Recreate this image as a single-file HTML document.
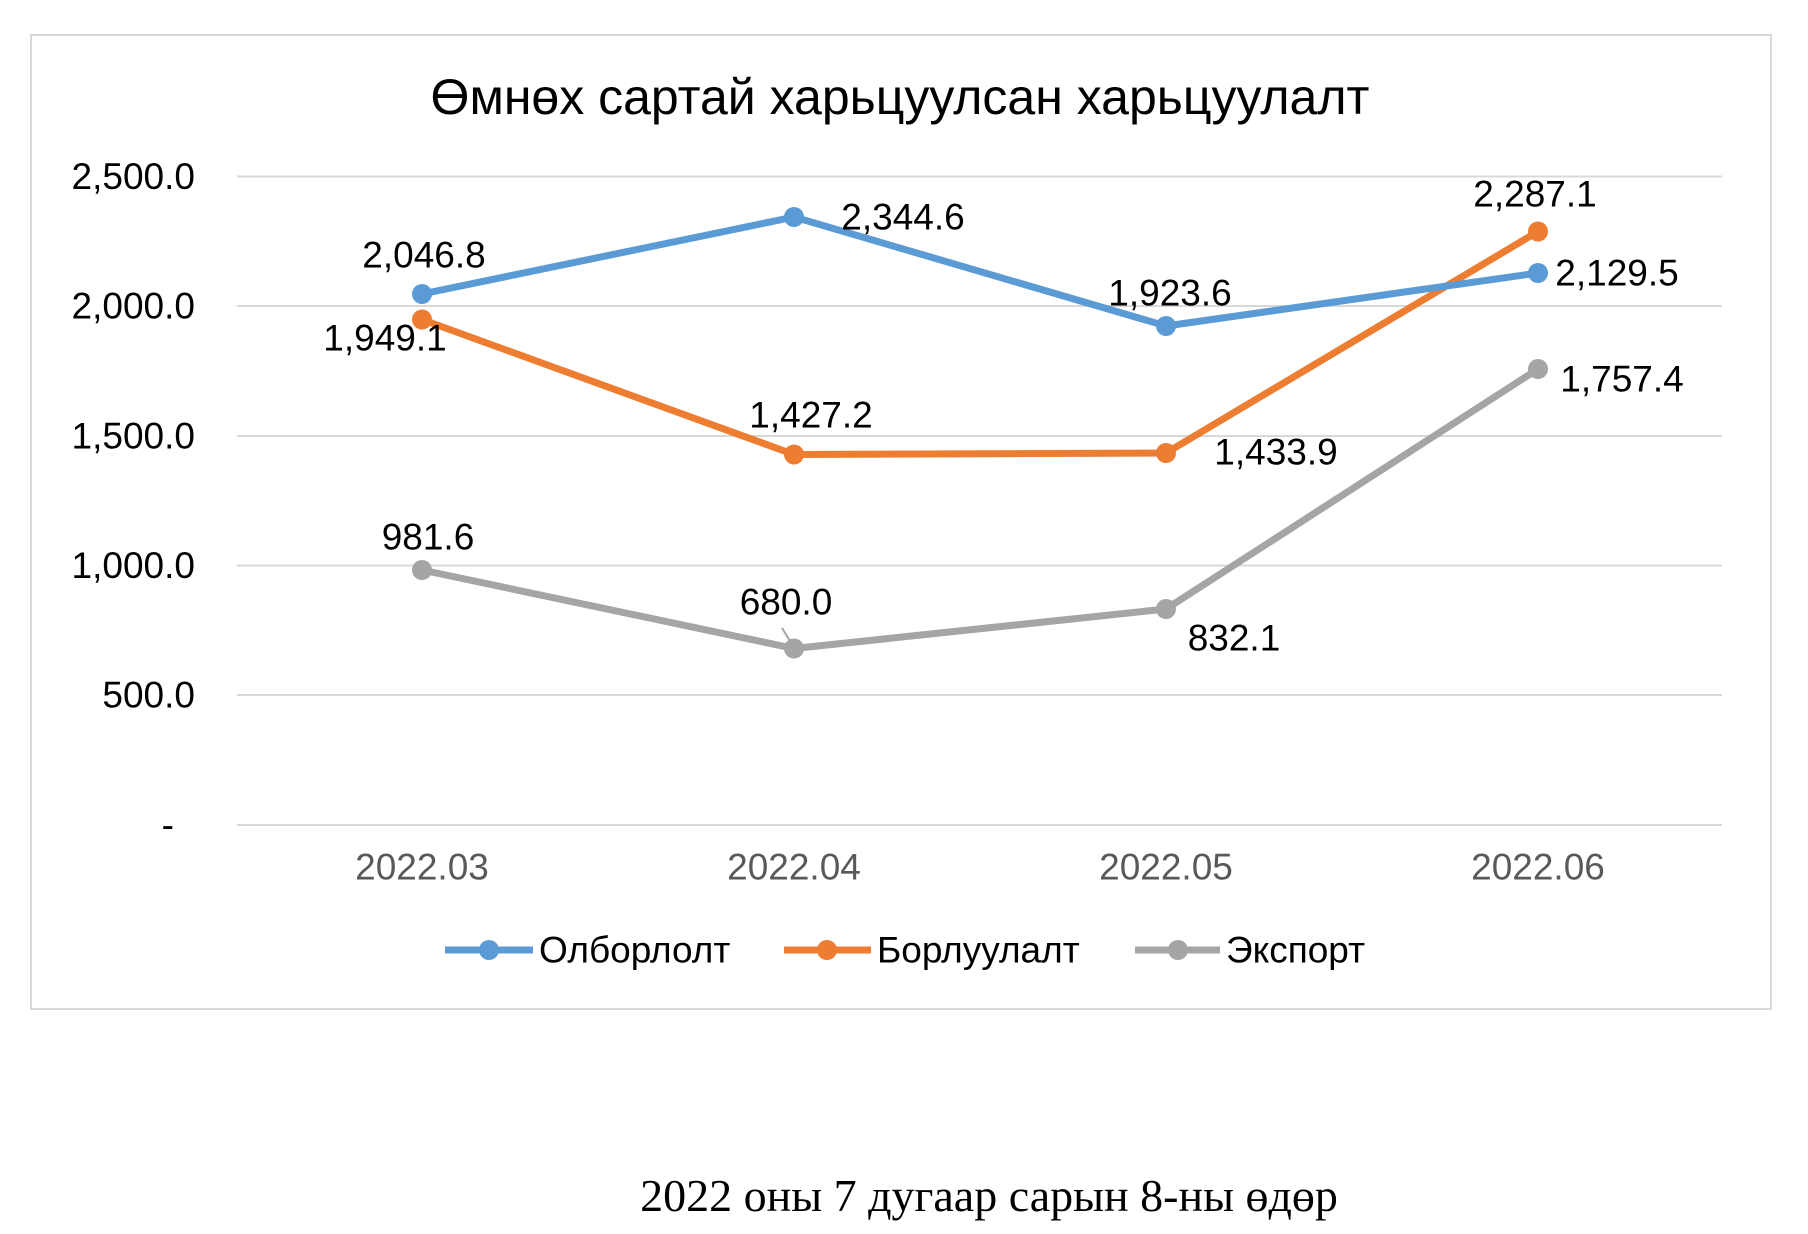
<!DOCTYPE html>
<html><head><meta charset="utf-8"><style>body{margin:0;background:#fff}svg{display:block}</style></head>
<body>
<svg width="1808" height="1234" xmlns="http://www.w3.org/2000/svg" font-family="Liberation Sans, DejaVu Sans, sans-serif">
<rect x="31" y="35" width="1740" height="974" fill="#fff" stroke="#d9d9d9" stroke-width="2"/>
<text x="900" y="114" font-size="50" text-anchor="middle" fill="#000">Өмнөх сартай харьцуулсан харьцуулалт</text>
<g stroke="#d9d9d9" stroke-width="2">
<line x1="237" x2="1722" y1="176.5" y2="176.5"/><line x1="237" x2="1722" y1="306" y2="306"/>
<line x1="237" x2="1722" y1="436" y2="436"/><line x1="237" x2="1722" y1="565.5" y2="565.5"/>
<line x1="237" x2="1722" y1="695" y2="695"/><line x1="237" x2="1722" y1="825" y2="825"/>
</g>
<g font-size="37" text-anchor="end" fill="#000" dominant-baseline="central">
<text x="195" y="176.5">2,500.0</text><text x="195" y="306">2,000.0</text><text x="195" y="436">1,500.0</text>
<text x="195" y="565.5">1,000.0</text><text x="195" y="695">500.0</text><text x="174" y="825">-</text>
</g>
<g font-size="37" text-anchor="middle" fill="#595959" dominant-baseline="central">
<text x="422" y="867">2022.03</text><text x="794" y="867">2022.04</text><text x="1166" y="867">2022.05</text><text x="1538" y="867">2022.06</text>
</g>
<g fill="none" stroke-width="7" stroke-linejoin="round">
<polyline stroke="#a5a5a5" points="422,570 794,648.5 1166,609 1538,369"/>
<polyline stroke="#ed7d31" points="422,319.5 794,454.5 1166,453 1538,231.5"/>
<polyline stroke="#5b9bd5" points="422,294 794,217 1166,326 1538,273"/>
</g>
<g fill="#a5a5a5"><circle cx="422" cy="570" r="10"/><circle cx="794" cy="648.5" r="10"/><circle cx="1166" cy="609" r="10"/><circle cx="1538" cy="369" r="10"/></g>
<g fill="#ed7d31"><circle cx="422" cy="319.5" r="10"/><circle cx="794" cy="454.5" r="10"/><circle cx="1166" cy="453" r="10"/><circle cx="1538" cy="231.5" r="10"/></g>
<g fill="#5b9bd5"><circle cx="422" cy="294" r="10"/><circle cx="794" cy="217" r="10"/><circle cx="1166" cy="326" r="10"/><circle cx="1538" cy="273" r="10"/></g>
<line x1="782" y1="628" x2="790" y2="641" stroke="#a5a5a5" stroke-width="2"/>
<g font-size="37" text-anchor="middle" fill="#000" dominant-baseline="central">
<text x="424" y="255">2,046.8</text><text x="903" y="217">2,344.6</text><text x="1170" y="293">1,923.6</text><text x="1617" y="273">2,129.5</text>
<text x="385" y="338">1,949.1</text><text x="811" y="415">1,427.2</text><text x="1276" y="452">1,433.9</text><text x="1535" y="194">2,287.1</text>
<text x="428" y="537">981.6</text><text x="786" y="602">680.0</text><text x="1234" y="638">832.1</text><text x="1622" y="379">1,757.4</text>
</g>
<g stroke-width="7">
<line x1="445" x2="533" y1="950" y2="950" stroke="#5b9bd5"/><circle cx="489" cy="950" r="10" fill="#5b9bd5" stroke="none"/>
<line x1="784" x2="871" y1="950" y2="950" stroke="#ed7d31"/><circle cx="827" cy="950" r="10" fill="#ed7d31" stroke="none"/>
<line x1="1135" x2="1220" y1="950" y2="950" stroke="#a5a5a5"/><circle cx="1178" cy="950" r="10" fill="#a5a5a5" stroke="none"/>
</g>
<g font-size="37" fill="#000" dominant-baseline="central">
<text x="539" y="950">Олборлолт</text><text x="877" y="950">Борлуулалт</text><text x="1226" y="950">Экспорт</text>
</g>
<text x="989" y="1211" font-size="46" text-anchor="middle" font-family="Liberation Serif, serif" fill="#000">2022 оны 7 дугаар сарын 8-ны өдөр</text>
</svg>
</body></html>
